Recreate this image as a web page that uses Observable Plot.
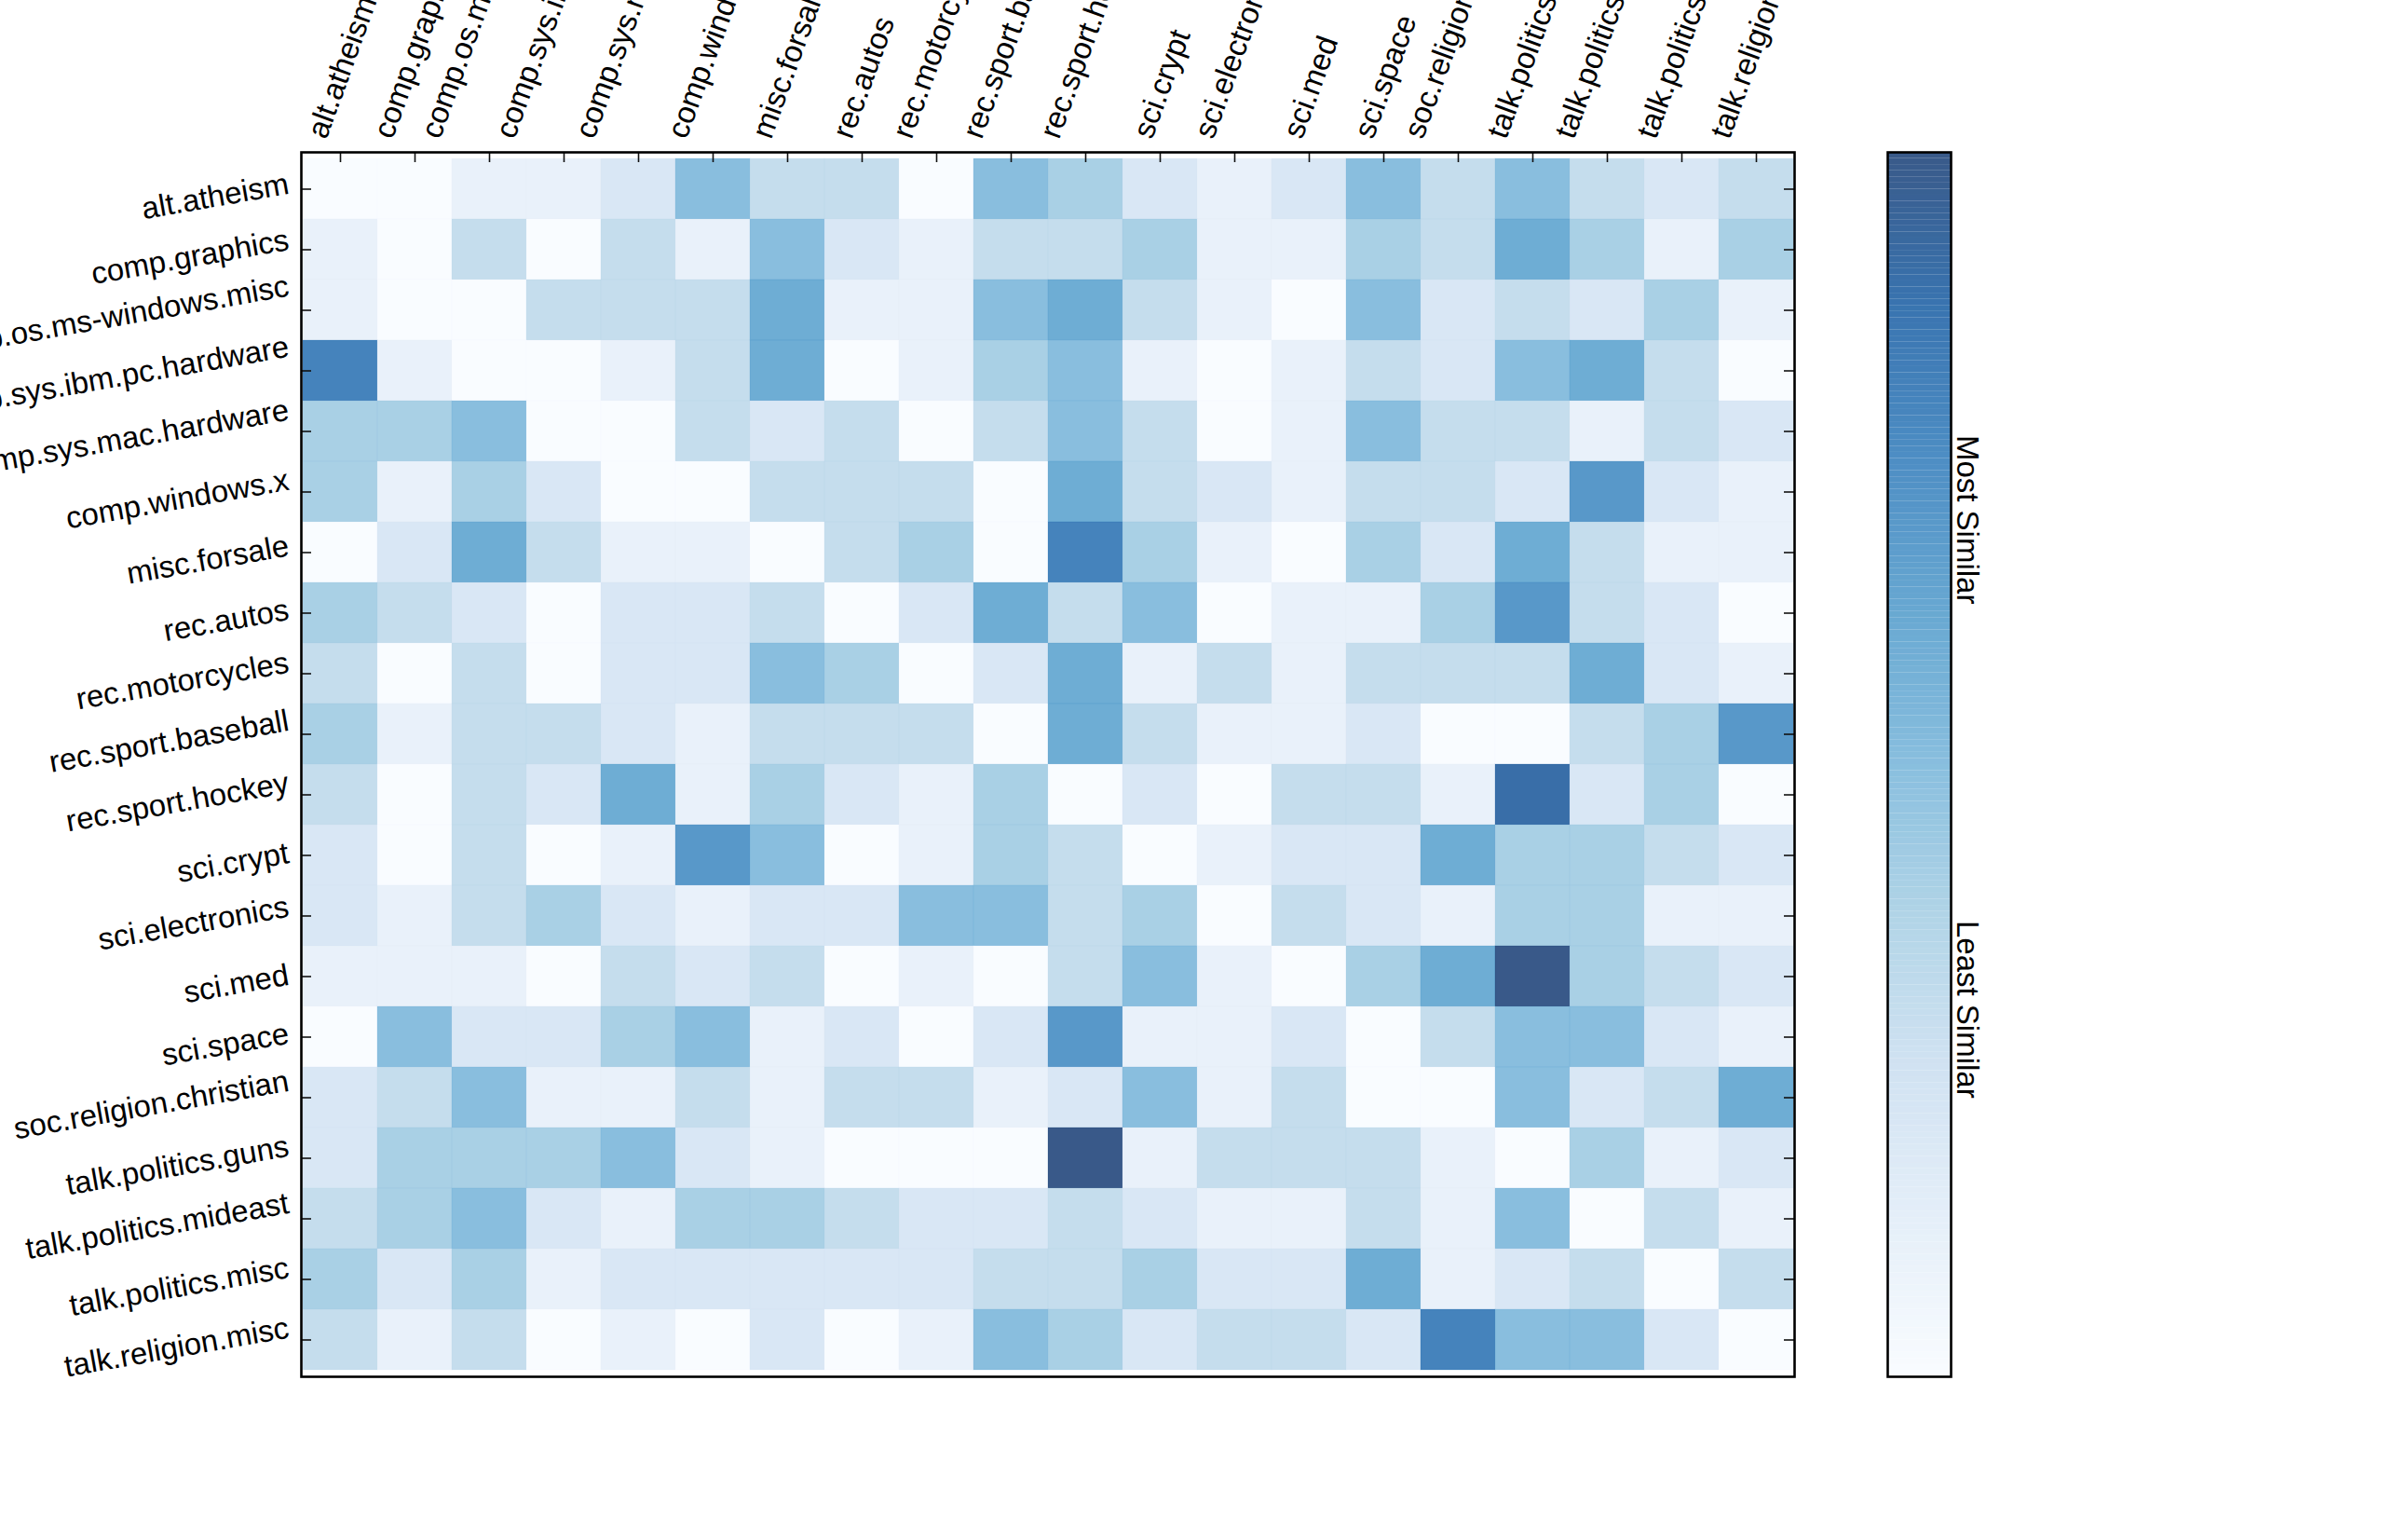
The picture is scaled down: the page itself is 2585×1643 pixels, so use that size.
<!DOCTYPE html>
<html>
<head>
<meta charset="utf-8">
<script src="https://cdn.jsdelivr.net/npm/d3@7"></script>
<script src="https://cdn.jsdelivr.net/npm/@observablehq/plot@0.6"></script>
<style>
html, body { margin: 0; padding: 0; background: #fff; }
#wrap { position: relative; width: 2585px; height: 1643px; overflow: hidden; background: #fff; }
#main { position: absolute; left: 0; top: 0; width: 1990px; height: 1643px; }
#cbar { position: absolute; left: 1990px; top: 0; width: 595px; height: 1643px; }
</style>
</head>
<body>
<div id="wrap"><div id="main"></div><div id="cbar"></div></div>
<script>
// Newsgroup categories (rows and columns, same order)
const groups = [
  "alt.atheism", "comp.graphics", "comp.os.ms-windows.misc", "comp.sys.ibm.pc.hardware",
  "comp.sys.mac.hardware", "comp.windows.x", "misc.forsale", "rec.autos",
  "rec.motorcycles", "rec.sport.baseball", "rec.sport.hockey", "sci.crypt",
  "sci.electronics", "sci.med", "sci.space", "soc.religion.christian",
  "talk.politics.guns", "talk.politics.mideast", "talk.politics.misc", "talk.religion.misc"
];

// Similarity level (0 = least, 10 = most), one row per category
const similarity = [
  [0,0,1,1,2,5,3,3,0,5, 4,2,1,2,5,3,5,3,2,3],  // alt.atheism
  [1,0,3,0,3,1,5,2,1,3, 3,4,1,1,4,3,6,4,1,4],  // comp.graphics
  [1,0,0,3,3,3,6,1,1,5, 6,3,1,0,5,2,3,2,4,1],  // comp.os.ms-windows.misc
  [8,1,0,0,1,3,6,0,1,4, 5,1,0,1,3,2,5,6,3,0],  // comp.sys.ibm.pc.hardware
  [4,4,5,0,0,3,2,3,0,3, 5,3,0,1,5,3,3,1,3,2],  // comp.sys.mac.hardware
  [4,1,4,2,0,0,3,3,3,0, 6,3,2,1,3,3,2,7,2,1],  // comp.windows.x
  [0,2,6,3,1,1,0,3,4,0, 8,4,1,0,4,2,6,3,1,1],  // misc.forsale
  [4,3,2,0,2,2,3,0,2,6, 3,5,0,1,1,4,7,3,2,0],  // rec.autos
  [3,0,3,0,2,2,5,4,0,2, 6,1,3,1,3,3,3,6,2,1],  // rec.motorcycles
  [4,1,3,3,2,1,3,3,3,0, 6,3,1,1,2,0,0,3,4,7],  // rec.sport.baseball
  [3,0,3,2,6,1,4,2,1,4, 0,2,0,3,3,1,9,2,4,0],  // rec.sport.hockey
  [2,0,3,0,1,7,5,0,1,4, 3,0,1,2,2,6,4,4,3,2],  // sci.crypt
  [2,1,3,4,2,1,2,2,5,5, 3,4,0,3,2,1,4,4,1,1],  // sci.electronics
  [1,1,1,0,3,2,3,0,1,0, 3,5,1,0,4,6,10,4,3,2], // sci.med
  [0,5,2,2,4,5,1,2,0,2, 7,1,1,2,0,3,5,5,2,1],  // sci.space
  [2,3,5,1,1,3,1,3,3,1, 2,5,1,3,0,0,5,2,3,6],  // soc.religion.christian
  [2,4,4,4,5,2,1,0,0,0, 10,1,3,3,3,1,0,4,1,2], // talk.politics.guns
  [3,4,5,2,1,4,4,3,2,2, 3,2,1,1,3,1,5,0,3,1],  // talk.politics.mideast
  [4,2,4,1,2,2,2,2,2,3, 3,4,2,2,6,1,2,3,0,3],  // talk.politics.misc
  [3,1,3,0,1,0,2,0,1,5, 4,2,3,3,2,8,5,5,2,0]   // talk.religion.misc
];

// Colorbar
const levelMin = 0;
const levelMax = 10;
const colorTicks = [3, 7];
const colorTickLabels = ["Least Similar", "Most Similar"];

// Blues colour map stops
const bluesStops = ["#f7fbff", "#deebf7", "#c6dbef", "#9ecae1", "#6baed6", "#4292c6", "#2171b5", "#08519c", "#08306b"];

const cells = groups.flatMap((row, i) => groups.map((col, j) => ({row, col, v: similarity[i][j]})));

const colorScale = {
  type: "linear",
  domain: bluesStops.map((_, i) => levelMin + i * (levelMax - levelMin) / (bluesStops.length - 1)),
  range: bluesStops,
  interpolate: "rgb"
};

const font = "'Liberation Sans', Arial, Helvetica, sans-serif";
const labelSize = 33;
const W = 1990, H = 1643;
const mL = 323, mR = W - 1926, mT = 163, mB = H - 1477;
const fw = W - mL - mR, fh = H - mT - mB;
const tickLen = 11;
const colRotate = -70, rowRotate = -10;

const main = Plot.plot({
  width: W, height: H,
  marginLeft: mL, marginRight: mR, marginTop: mT, marginBottom: mB,
  style: {fontFamily: font, background: "white"},
  x: {type: "band", domain: groups, padding: 0, axis: null},
  y: {type: "band", domain: groups, padding: 0, axis: null},
  color: colorScale,
  marks: [
    Plot.cell(cells, {x: "col", y: "row", fill: "v", fillOpacity: 0.8, stroke: "v", strokeOpacity: 0.18, strokeWidth: 1}),
    Plot.ruleX(groups, {x: d => d, insetBottom: fh - tickLen, stroke: "#111", strokeWidth: 1.6}),
    Plot.ruleY(groups, {y: d => d, insetRight: fw - tickLen, stroke: "#111", strokeWidth: 1.6}),
    Plot.ruleY(groups, {y: d => d, insetLeft: fw - tickLen, stroke: "#111", strokeWidth: 1.6}),
    Plot.frame({stroke: "black", strokeWidth: 2.6}),
    Plot.text(groups, {x: d => d, text: d => d, frameAnchor: "top", textAnchor: "start", lineAnchor: "bottom",
      rotate: colRotate, dx: 11, dy: -13, fontSize: labelSize, fontFamily: font, fill: "black"}),
    Plot.text(groups, {y: d => d, text: d => d, frameAnchor: "left", textAnchor: "end", lineAnchor: "bottom",
      rotate: rowRotate, dx: -12, dy: 18.5, fontSize: labelSize, fontFamily: font, fill: "black"})
  ]
});
document.getElementById("main").append(main);

// matplotlib-style alignment of rotated tick labels (bounding box centred on the tick)
main.querySelectorAll("text").forEach(t => {
  const tr = t.getAttribute("transform") || "";
  const w = t.getComputedTextLength();
  if (tr.includes(`rotate(${colRotate})`)) {
    t.setAttribute("transform", `translate(${(-0.164 * w).toFixed(2)},0) ` + tr);
  } else if (tr.includes(`rotate(${rowRotate})`)) {
    t.setAttribute("transform", `translate(0,${(-0.087 * w).toFixed(2)}) ` + tr);
  }
});

// Colorbar
const CW = 595, cbL = 36, cbW = 68;
const nSteps = 200;
const stepSize = (levelMax - levelMin) / nSteps;
const steps = d3.range(nSteps).map(i => levelMin + i * stepSize);

const cbar = Plot.plot({
  width: CW, height: H,
  marginLeft: cbL, marginRight: CW - cbL - cbW, marginTop: mT, marginBottom: mB,
  style: {fontFamily: font, background: "white"},
  y: {domain: [levelMin, levelMax], axis: null},
  color: colorScale,
  marks: [
    Plot.rect(steps, {y1: d => d, y2: d => d + stepSize, fill: d => d + stepSize / 2, fillOpacity: 0.8}),
    Plot.frame({stroke: "black", strokeWidth: 2.6}),
    Plot.text(colorTicks, {y: d => d, text: (d, i) => colorTickLabels[i], frameAnchor: "right",
      textAnchor: "middle", lineAnchor: "bottom", rotate: 90, dx: 6, fontSize: 33, fontFamily: font, fill: "black"})
  ]
});
document.getElementById("cbar").append(cbar);
</script>
</body>
</html>
